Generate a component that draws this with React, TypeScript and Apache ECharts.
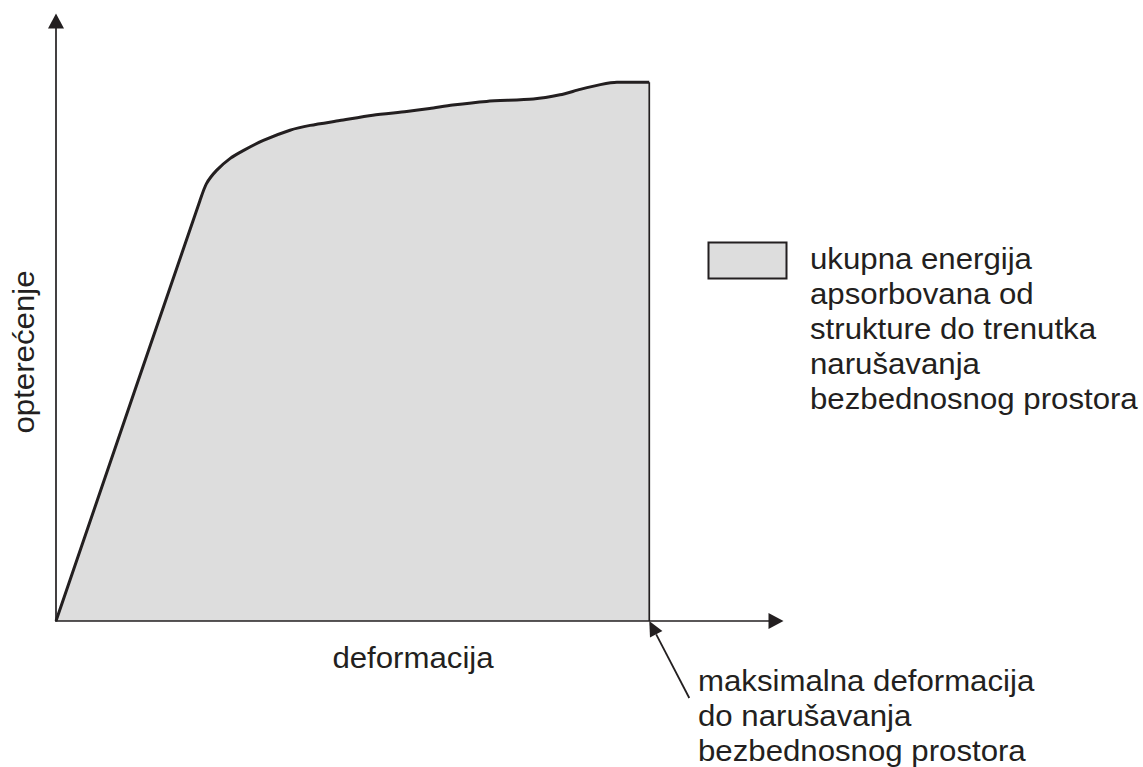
import React, { useEffect, useRef } from "react";
import * as echarts from "echarts";

// Load–deformation curve of the structure (relative units, 0–100 on each axis)
const deformation = [0, 20.0, 20.9, 22.3, 24.2, 26.0, 28.8, 32.5, 35.3, 39.4, 44.0, 48.7, 51.9, 55.1, 59.8, 66.3, 70.0, 72.8, 75.6, 77.9, 82.4];
const load = [0, 70.1, 72.9, 75.1, 77.1, 78.4, 80.1, 81.8, 82.6, 83.4, 84.3, 84.9, 85.4, 86.0, 86.6, 87.0, 87.7, 88.6, 89.4, 89.8, 89.8];

const xAxisName = "deformacija";
const yAxisName = "opterećenje";
const legendLines = [
  "ukupna energija",
  "apsorbovana od",
  "strukture do trenutka",
  "narušavanja",
  "bezbednosnog prostora",
];
const noteLines = ["maksimalna deformacija", "do narušavanja", "bezbednosnog prostora"];

const INK = "#231f20";
const FILL = "#dddddd";
const FONT = "'Liberation Sans', Arial, Helvetica, sans-serif";
const FONT_SIZE = 30;
const TEXT_STRETCH = 1.04;
const LINE_GAP = 35;

export default function App() {
  const ref = useRef<HTMLDivElement>(null);

  useEffect(() => {
    if (!ref.current) return;
    const chart = echarts.init(ref.current, null, { renderer: "svg" });
    const curve = deformation.map((d, i) => [d, load[i]]);
    const last = curve[curve.length - 1];

    const axisCommon = {
      type: "value" as const,
      min: 0,
      max: 100,
      z: 5,
      axisLine: {
        show: true,
        symbol: ["none", "triangle"],
        symbolSize: [16, 15],
        lineStyle: { color: INK, width: 1.7 },
      },
      axisTick: { show: false },
      axisLabel: { show: false },
      splitLine: { show: false },
    };

    chart.setOption({
      animation: false,
      grid: { left: 56, right: 367, top: 21, bottom: 146 },
      xAxis: axisCommon,
      yAxis: axisCommon,
      series: [
        {
          type: "line",
          data: curve,
          showSymbol: false,
          smooth: 0.25,
          lineStyle: { color: INK, width: 3 },
          areaStyle: { color: FILL, opacity: 1 },
          z: 2,
        },
        {
          // right boundary of the absorbed-energy area
          type: "line",
          data: [last, [last[0], 0]],
          showSymbol: false,
          lineStyle: { color: INK, width: 1.7 },
          z: 3,
        },
      ],
    });

    const origin = chart.convertToPixel({ gridIndex: 0 }, [0, 0]) as number[];
    const tip = chart.convertToPixel({ gridIndex: 0 }, [last[0], 0]) as number[];

    // pointer from the note to the maximum deformation
    const tail = [tip[0] + 40, tip[1] + 77];
    const dx = tip[0] - tail[0];
    const dy = tip[1] - tail[1];
    const len = Math.hypot(dx, dy);
    const ux = dx / len;
    const uy = dy / len;
    const headLen = 15;
    const headHalf = 7;
    const bx = tip[0] - ux * headLen;
    const by = tip[1] - uy * headLen;

    const label = (text: string, x: number, y: number, align = "left", rotation = 0) => ({
      type: "text",
      x,
      y,
      rotation,
      scaleX: TEXT_STRETCH,
      style: {
        text,
        fill: INK,
        font: `${FONT_SIZE}px ${FONT}`,
        align,
        verticalAlign: "middle",
      },
    });

    const legendX = 810;
    const legendTop = 258;
    const noteX = 698;
    const noteTop = tip[1] + 59;

    chart.setOption({
      graphic: [
        // axis titles
        label(xAxisName, 413, origin[1] + 36, "center"),
        label(yAxisName, 23, 352, "center", Math.PI / 2),
        // legend swatch and description
        {
          type: "rect",
          shape: { x: 708.5, y: 242.5, width: 78, height: 36 },
          style: { fill: FILL, stroke: INK, lineWidth: 2 },
        },
        ...legendLines.map((t, i) => label(t, legendX, legendTop + i * LINE_GAP)),
        // note with pointer
        {
          type: "line",
          shape: { x1: tail[0], y1: tail[1], x2: bx, y2: by },
          style: { stroke: INK, lineWidth: 1.8 },
        },
        {
          type: "polygon",
          shape: {
            points: [
              [tip[0], tip[1]],
              [bx - uy * headHalf, by + ux * headHalf],
              [bx + uy * headHalf, by - ux * headHalf],
            ],
          },
          style: { fill: INK },
        },
        ...noteLines.map((t, i) => label(t, noteX, noteTop + i * LINE_GAP)),
      ],
    });

    return () => chart.dispose();
  }, []);

  return (
    <div
      ref={ref}
      style={{ position: "fixed", left: 0, top: 0, width: 1143, height: 767, background: "#ffffff" }}
    />
  );
}
